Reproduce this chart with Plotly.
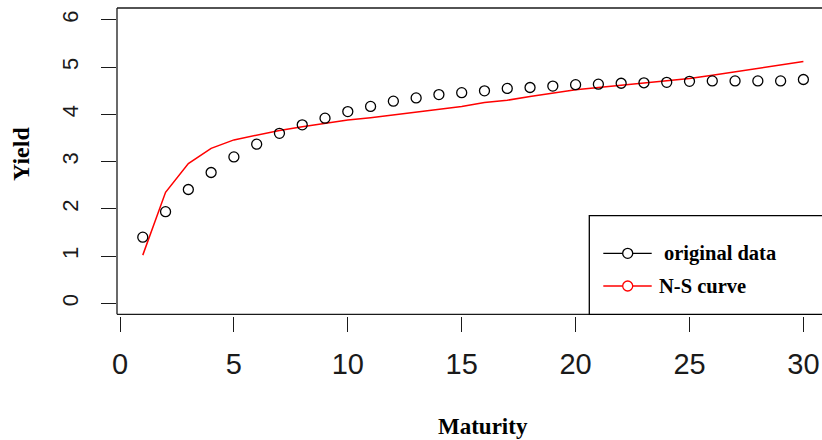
import plotly.graph_objects as go

maturity = list(range(1, 31))
original_yield = [1.40, 1.94, 2.41, 2.77, 3.10, 3.37, 3.60, 3.78, 3.92, 4.06,
                  4.17, 4.28, 4.35, 4.42, 4.46, 4.50, 4.55, 4.57, 4.60, 4.63,
                  4.64, 4.66, 4.67, 4.68, 4.70, 4.71, 4.71, 4.71, 4.71, 4.74]
ns_yield = [1.02, 2.35, 2.96, 3.28, 3.46, 3.56, 3.66, 3.74, 3.81, 3.88,
            3.93, 3.99, 4.06, 4.11, 4.17, 4.25, 4.30, 4.38, 4.45, 4.52,
            4.57, 4.62, 4.67, 4.71, 4.76, 4.83, 4.90, 4.98, 5.04, 5.12]
x_ticks = [0, 5, 10, 15, 20, 25, 30]
y_ticks = [0, 1, 2, 3, 4, 5, 6]
legend_labels = ["original data", "N-S curve"]

W, H = 822, 440
ML, MR, MT, MB = 117, 0, 8, 124
PW, PH = W - ML - MR, H - MT - MB


def px(x):
    return (x - ML) / PW


def py(y):
    return (H - MB - y) / PH


box_bottom = py(314.3)

fig = go.Figure()
fig.add_trace(go.Scatter(
    x=maturity, y=ns_yield, mode="lines",
    line=dict(color="#ff0000", width=1.5), showlegend=False, cliponaxis=False))
fig.add_trace(go.Scatter(
    x=maturity, y=original_yield, mode="markers",
    marker=dict(symbol="circle-open", size=10, color="black",
                line=dict(width=1.3, color="black")),
    showlegend=False, cliponaxis=False))

shapes = []
line_style = dict(color="#1a1a1a", width=1.3)
# plot box (left, top, bottom)
shapes.append(dict(type="line", xref="paper", yref="paper", x0=0, x1=0,
                   y0=box_bottom, y1=1, line=line_style))
shapes.append(dict(type="line", xref="paper", yref="paper", x0=0, x1=1.02,
                   y0=1, y1=1, line=line_style))
shapes.append(dict(type="line", xref="paper", yref="paper", x0=0, x1=1.02,
                   y0=box_bottom, y1=box_bottom, line=line_style))
# legend box
shapes.append(dict(type="rect", xref="paper", yref="paper", x0=px(589.3), x1=1.02,
                   y0=box_bottom, y1=py(215.7), line=dict(color="black", width=1.3),
                   fillcolor="white", layer="above"))

legend_colors = ["black", "#ff0000"]
legend_y = [253.3, 286.0]
legend_text_x = [663.0, 658.0]
annotations = []
for lab, col, ly, tx in zip(legend_labels, legend_colors, legend_y, legend_text_x):
    shapes.append(dict(type="line", xref="paper", yref="paper",
                       x0=px(603.3), x1=px(651.7), y0=py(ly), y1=py(ly),
                       line=dict(color=col, width=1.3), layer="above"))
    shapes.append(dict(type="circle", xref="paper", yref="paper",
                       xsizemode="pixel", ysizemode="pixel",
                       xanchor=px(627.7), yanchor=py(ly),
                       x0=-5, x1=5, y0=-5, y1=5,
                       line=dict(color=col, width=1.3), fillcolor="white", layer="above"))
    annotations.append(dict(text="<b>" + lab + "</b>", xref="paper", yref="paper",
                            x=px(tx - 1), y=py(ly), xanchor="left", yanchor="middle",
                            showarrow=False,
                            font=dict(family="Liberation Serif", size=20.5, color="black")))

annotations.append(dict(text="<b>Maturity</b>", xref="paper", yref="paper",
                        x=px(482.5), y=py(426), xanchor="center", yanchor="middle",
                        showarrow=False,
                        font=dict(family="Liberation Serif", size=23, color="black")))
annotations.append(dict(text="<b>Yield</b>", xref="paper", yref="paper",
                        x=px(21), y=py(154), xanchor="center", yanchor="middle",
                        textangle=-90, showarrow=False,
                        font=dict(family="Liberation Serif", size=24, color="black")))

fig.update_layout(
    width=W, height=H,
    margin=dict(l=ML, r=MR, t=MT, b=MB, pad=0),
    paper_bgcolor="white", plot_bgcolor="white",
    shapes=shapes, annotations=annotations,
    xaxis=dict(range=[(ML - 120) / 22.78, (W - 120) / 22.78],
               tickmode="array", tickvals=x_ticks, ticktext=[str(v) for v in x_ticks],
               ticks="outside", ticklen=15, tickwidth=1.3, tickcolor="#1a1a1a",
               showline=False, showgrid=False, zeroline=False,
               anchor="free", position=0, ticklabelstandoff=7,
               tickfont=dict(family="Liberation Sans", size=29, color="#1a1a1a")),
    yaxis=dict(range=[-0.233, (303.3 - 8) / 47.22], domain=[box_bottom, 1],
               tickmode="array", tickvals=y_ticks, ticktext=[str(v) for v in y_ticks],
               ticks="outside", ticklen=15, tickwidth=1.3, tickcolor="#1a1a1a",
               showline=False, showgrid=False, zeroline=False,
               tickangle=-90, ticklabelstandoff=14,
               tickfont=dict(family="Liberation Sans", size=22, color="#1a1a1a")),
)

fig.write_html("out.html", config={"displayModeBar": False},
               post_script="document.body.style.margin='0';document.body.style.overflow='hidden';")
